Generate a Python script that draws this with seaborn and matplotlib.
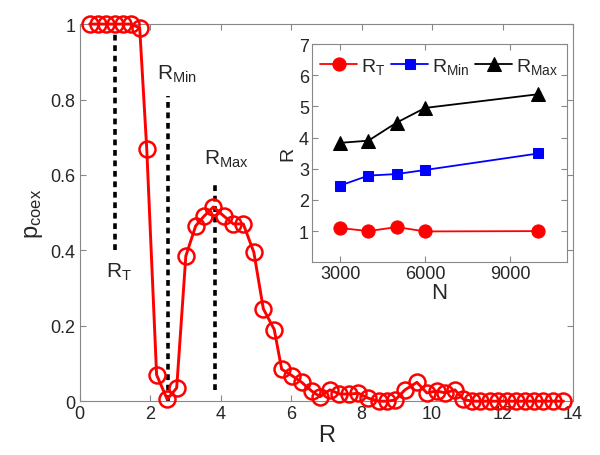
import matplotlib
matplotlib.use("Agg")
import matplotlib.pyplot as plt
import seaborn as sns
import pandas as pd

# main curve: coexistence probability vs R
r_vals = [0.28, 0.51, 0.75, 0.99, 1.22, 1.44, 1.70, 1.90, 2.18, 2.48,
          2.75, 3.01, 3.29, 3.52, 3.79, 4.10, 4.36, 4.64, 4.94, 5.21,
          5.52, 5.73, 6.02, 6.30, 6.58, 6.82, 7.10, 7.37, 7.65, 7.91,
          8.19, 8.48, 8.71, 8.95, 9.23, 9.57, 9.85, 10.13, 10.37, 10.65,
          10.89, 11.13, 11.36, 11.65, 11.88, 12.12, 12.39, 12.64, 12.90, 13.16,
          13.43, 13.73]
p_coex = [1.0, 1.0, 1.0, 1.0, 1.0, 1.0, 0.99, 0.67, 0.07, 0.005,
          0.035, 0.385, 0.465, 0.49, 0.515, 0.49, 0.47, 0.47, 0.395, 0.245,
          0.19, 0.085, 0.068, 0.05, 0.027, 0.012, 0.03, 0.019, 0.019, 0.021,
          0.008, 0.0, 0.0, 0.003, 0.03, 0.05, 0.022, 0.027, 0.022, 0.03,
          0.005, 0.0, 0.0, 0.0, 0.0, 0.0, 0.0, 0.0, 0.0, 0.0,
          0.0, 0.0]

# marker lines: (x, y bottom, y top)
r_t_line = (1.0, 0.40, 0.98)
r_min_line = (2.5, 0.0, 0.81)
r_max_line = (3.84, 0.03, 0.58)

# inset: characteristic R vs N
n_vals = [3000, 4000, 5000, 6000, 10000]
r_t = [1.1, 1.0, 1.13, 0.99, 1.0]
r_min = [2.46, 2.78, 2.83, 2.96, 3.49]
r_max = [3.83, 3.9, 4.48, 4.95, 5.39]

sns.set_style("ticks")
plt.rcParams['font.family'] = ['Liberation Sans', 'DejaVu Sans']
plt.rcParams['mathtext.default'] = 'regular'
plt.rcParams['xtick.direction'] = 'in'
plt.rcParams['ytick.direction'] = 'in'

fig = plt.figure(figsize=(6, 4.56), dpi=100)
ax = fig.add_axes([0.133, 0.118, 0.822, 0.827])

main_df = pd.DataFrame({'R': r_vals, 'p': p_coex})
sns.lineplot(data=main_df, x='R', y='p', ax=ax, sort=False, estimator=None,
             color='red', linewidth=2.1, marker='o', markersize=11.5,
             markerfacecolor='none', markeredgecolor='red', markeredgewidth=1.8,
             clip_on=False, zorder=3)

for x, y0, y1 in [r_t_line, r_min_line, r_max_line]:
    ax.plot([x, x], [y0, y1], color='black', linewidth=2.6,
            linestyle=(0, (1.6, 1.3)), zorder=2)

ax.text(0.75, 0.345, '$R_T$', fontsize=15, ha='left', va='center')
ax.text(2.2, 0.87, '$R_{Min}$', fontsize=15, ha='left', va='center')
ax.text(3.53, 0.645, '$R_{Max}$', fontsize=15, ha='left', va='center')

ax.set_xlim(0, 14)
ax.set_ylim(0, 1)
ax.set_xticks([0, 2, 4, 6, 8, 10, 12, 14])
ax.set_yticks([0, 0.2, 0.4, 0.6, 0.8, 1.0])
ax.set_yticklabels(['0', '0.2', '0.4', '0.6', '0.8', '1'])
ax.tick_params(labelsize=13, top=True, right=True, length=4, color='#888888', pad=3)
ax.set_xlabel('R', fontsize=17, labelpad=1)
ax.set_ylabel('$p_{coex}$', fontsize=17, labelpad=4)
for s in ax.spines.values():
    s.set_color('#888888')
    s.set_linewidth(0.8)

# inset
ins = fig.add_axes([0.5195, 0.4226, 0.425, 0.4787])
sns.lineplot(x=n_vals, y=r_t, ax=ins, color='red', marker='o', markersize=9.5,
             markeredgecolor='red', linewidth=1.3, label='$R_T$')
sns.lineplot(x=n_vals, y=r_min, ax=ins, color='blue', marker='s', markersize=7,
             markeredgecolor='blue', linewidth=1.3, label='$R_{Min}$')
sns.lineplot(x=n_vals, y=r_max, ax=ins, color='black', marker='^', markersize=9.5,
             markeredgecolor='black', linewidth=1.3, label='$R_{Max}$')
ins.set_xlim(2000, 11000)
ins.set_ylim(0, 7)
ins.set_xticks([3000, 6000, 9000])
ins.set_yticks([1, 2, 3, 4, 5, 6, 7])
ins.tick_params(labelsize=13, top=True, right=True, length=4, color='#888888', pad=2)
ins.set_xlabel('N', fontsize=16, labelpad=0)
ins.set_ylabel('R', fontsize=14, labelpad=2)
for s in ins.spines.values():
    s.set_color('#888888')
    s.set_linewidth(0.8)
ins.legend(loc='upper center', ncol=3, frameon=False, fontsize=14,
           handlelength=1.9, handletextpad=0.2, columnspacing=0.3,
           borderaxespad=0.2)

fig.savefig('out.png', dpi=100)
